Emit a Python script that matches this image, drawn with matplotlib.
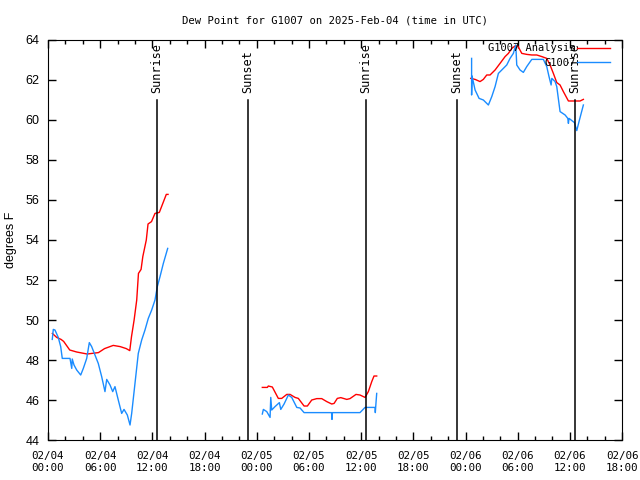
import numpy as np
import pandas as pd
import matplotlib
matplotlib.use('Agg')
import matplotlib.pyplot as plt
import matplotlib.dates as mdates

start = pd.Timestamp('2025-02-04 00:00')

# hours after 02/04 00:00 UTC, dew point in F
t1_ana = [0.5, 1.0, 1.5, 1.8, 2.5, 3.3, 4.5, 5.8, 6.5, 7.5, 8.3, 9.0, 9.4, 9.6,
          9.9, 10.2, 10.4, 10.7, 10.9, 11.3, 11.5, 11.9, 12.3, 12.8, 13.2, 13.6, 13.8]
v1_ana = [49.33, 49.13, 49.03, 48.93, 48.5, 48.4, 48.3, 48.37, 48.57, 48.73, 48.67, 48.57,
          48.47, 49.17, 50.0, 51.0, 52.33, 52.53, 53.17, 54.0, 54.8, 54.92, 55.33, 55.38,
          55.83, 56.28, 56.28]
t1_obs = [0.49, 0.61, 0.8, 1.18, 1.46, 1.64, 2.53, 2.73, 2.79, 2.99, 3.3, 3.76, 4.06, 4.45,
          4.75, 5.02, 5.4, 5.78, 6.17, 6.55, 6.75, 7.13, 7.44, 7.7, 8.08, 8.47, 8.74, 9.12,
          9.43, 9.62, 10.0, 10.38, 10.77, 11.15, 11.53, 11.92, 12.3, 12.57, 12.88, 13.26, 13.76]
v1_obs = [49.03, 49.53, 49.5, 49.13, 48.67, 48.08, 48.08, 47.58, 48.05, 47.75, 47.5, 47.25,
          47.58, 48.08, 48.87, 48.67, 48.25, 47.83, 47.17, 46.42, 47.03, 46.75, 46.42, 46.67,
          46.0, 45.33, 45.53, 45.25, 44.75, 45.33, 46.83, 48.33, 49.0, 49.5, 50.08, 50.5,
          51.0, 51.67, 52.17, 52.83, 53.58]

t2_ana = [24.64, 25.22, 25.33, 25.79, 26.48, 26.87, 27.45, 27.83, 28.4, 28.78, 29.44, 29.82,
          30.32, 30.9, 31.47, 32.05, 32.62, 32.89, 33.26, 33.66, 34.35, 34.72, 35.41, 35.87,
          36.45, 36.83, 37.22, 37.48, 37.79]
v2_ana = [46.63, 46.63, 46.7, 46.65, 46.08, 46.08, 46.28, 46.28, 46.13, 46.08, 45.7, 45.7,
          46.0, 46.07, 46.07, 45.92, 45.8, 45.83, 46.08, 46.12, 46.03, 46.07, 46.28, 46.25,
          46.13, 46.42, 46.92, 47.2, 47.2]
t2_obs = [24.64, 24.76, 25.15, 25.53, 25.61, 25.72, 26.1, 26.6, 26.76, 27.14, 27.63, 28.02,
          28.6, 28.98, 29.44, 32.6, 32.65, 32.7, 35.87, 36.45, 37.6, 37.63, 37.71, 37.79]
v2_obs = [45.3, 45.53, 45.42, 45.13, 46.13, 45.5, 45.67, 45.87, 45.53, 45.8, 46.25, 46.13,
          45.63, 45.6, 45.37, 45.37, 45.03, 45.37, 45.37, 45.63, 45.63, 45.37, 45.87, 46.33]

t3_ana = [48.6, 49.1, 49.67, 50.05, 50.44, 50.82, 51.4, 51.97, 52.55, 52.93, 53.32, 53.7,
          54.01, 54.47, 55.04, 55.62, 56.19, 56.77, 57.34, 57.72, 58.1, 58.49, 58.87, 59.25,
          59.83, 60.6, 61.17, 61.55]
v3_ana = [62.08, 62.03, 61.92, 62.03, 62.25, 62.25, 62.5, 62.83, 63.17, 63.33, 63.58, 63.7,
          63.7, 63.33, 63.28, 63.25, 63.25, 63.17, 63.08, 62.75, 62.33, 61.87, 61.75, 61.42,
          60.95, 60.95, 60.95, 61.03]
t3_obs = [48.7, 48.7, 48.75, 49.1, 49.56, 50.05, 50.63, 51.02, 51.4, 51.78, 52.17, 52.74,
          53.12, 53.5, 53.78, 53.89, 54.27, 54.65, 55.04, 55.62, 56.38, 56.95, 57.34, 57.6,
          57.84, 57.92, 58.3, 58.49, 58.87, 59.45, 59.76, 59.83, 59.9, 60.52, 60.79, 61.05, 61.55]
v3_obs = [63.08, 61.25, 62.2, 61.5, 61.08, 61.0, 60.75, 61.17, 61.67, 62.33, 62.5, 62.75,
          63.08, 63.33, 63.75, 62.75, 62.5, 62.38, 62.67, 63.03, 63.03, 63.03, 62.67, 62.17,
          61.75, 62.08, 61.92, 61.67, 60.42, 60.25, 60.08, 59.83, 60.08, 59.87, 59.47, 59.92, 60.75]

sun_hours = [12.53, 23.0, 36.56, 47.03, 60.6]
sun_names = ['Sunrise', 'Sunset', 'Sunrise', 'Sunset', 'Sunrise']


def to_time(hours):
    return start + pd.to_timedelta(np.array(hours), unit='h')


mono = 'DejaVu Sans Mono'
red = '#ff0000'
blue = '#1a8cff'

fig = plt.figure(figsize=(6.4, 4.8), dpi=100)
ax = fig.add_axes([0.075, 0.0833, 0.897, 0.8334])

segments = [(t1_ana, v1_ana, t1_obs, v1_obs),
            (t2_ana, v2_ana, t2_obs, v2_obs),
            (t3_ana, v3_ana, t3_obs, v3_obs)]
for i, (ta, va, to, vo) in enumerate(segments):
    ax.plot(to_time(ta), va, color=red, lw=1.0, label='G1007 Analysis' if i == 0 else None)
    ax.plot(to_time(to), vo, color=blue, lw=1.0, label='G1007' if i == 0 else None)

for h, name in zip(sun_hours, sun_names):
    t = to_time([h])[0]
    ax.plot([t, t], [44, 61], color='black', lw=1.1)
    ax.text(t, 61.35, name, rotation=90, ha='center', va='bottom',
            family=mono, fontsize=8.5)

ax.set_xlim(start, start + pd.Timedelta(hours=66))
ax.set_ylim(44, 64)
ax.set_yticks(np.arange(44, 65, 2))
ax.xaxis.set_major_locator(mdates.HourLocator(byhour=[0, 6, 12, 18]))
ax.xaxis.set_minor_locator(mdates.HourLocator(interval=2))
ax.xaxis.set_major_formatter(mdates.DateFormatter('%m/%d\n%H:%M'))
ax.tick_params(which='both', direction='in', top=True, right=True, width=1, colors='black')
ax.tick_params(which='major', length=6)
ax.tick_params(which='minor', length=3)
ax.tick_params(axis='x', pad=8)
ax.tick_params(axis='y', pad=6)
for lab in ax.get_xticklabels():
    lab.set_family(mono)
    lab.set_fontsize(7.8)
for lab in ax.get_yticklabels():
    lab.set_family('Liberation Sans')
    lab.set_fontsize(9)

ax.set_ylabel('degrees F', family='Liberation Sans', fontsize=9, labelpad=6)
ax.set_title('Dew Point for G1007 on 2025-Feb-04 (time in UTC)', family=mono,
             fontsize=7.6, pad=12)

ax.legend(loc='upper right', bbox_to_anchor=(0.982, 0.997), frameon=False,
          markerfirst=False, handlelength=3.1, prop={'family': mono, 'size': 7.5},
          borderaxespad=0.1, borderpad=0.1, labelspacing=0.45, handletextpad=0.2)

fig.savefig('out.png', dpi=100)
